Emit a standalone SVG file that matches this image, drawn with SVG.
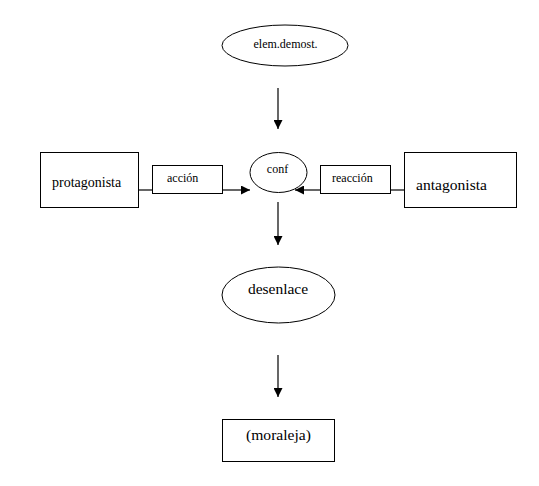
<svg xmlns="http://www.w3.org/2000/svg" width="539" height="486" viewBox="0 0 539 486">
<style>
.shape{fill:#fff;stroke:#000;stroke-width:1}
.ln{stroke:#000;stroke-width:1.2;fill:none}
.t{font-family:'Liberation Serif','Times New Roman','DejaVu Serif',serif;fill:#000}
</style>
<defs>
<marker id="ah" viewBox="0 0 10 10" refX="10" refY="5" markerWidth="10" markerHeight="9" markerUnits="userSpaceOnUse" orient="auto">
<path d="M0,0 L10,5 L0,10 Z" fill="#000"/>
</marker>
</defs>
<rect width="539" height="486" fill="#fff"/>
<g id="connectors">
<line class="ln" x1="278" y1="88" x2="278" y2="129" marker-end="url(#ah)"/>
<line class="ln" x1="138" y1="190" x2="152" y2="190"/>
<line class="ln" x1="222" y1="190" x2="250" y2="190" marker-end="url(#ah)"/>
<line class="ln" x1="404" y1="190" x2="391" y2="190"/>
<line class="ln" x1="320" y1="190" x2="295" y2="190" marker-end="url(#ah)"/>
<line class="ln" x1="278" y1="202" x2="278" y2="245" marker-end="url(#ah)"/>
<line class="ln" x1="278" y1="355" x2="278" y2="397" marker-end="url(#ah)"/>
</g>
<g id="elem">
<ellipse class="shape" cx="285" cy="45.5" rx="63" ry="20.5"/>
<text class="t" x="285.5" y="48" font-size="12" text-anchor="middle">elem.demost.</text>
</g>
<g id="protagonista">
<rect class="shape" x="40.5" y="152.5" width="98" height="55"/>
<text class="t" x="52" y="187" font-size="14">protagonista</text>
</g>
<g id="accion">
<rect class="shape" x="152.5" y="165.5" width="70" height="28"/>
<text class="t" x="167" y="182" font-size="12">acción</text>
</g>
<g id="conf">
<ellipse class="shape" cx="278.5" cy="172.5" rx="28.5" ry="20"/>
<text class="t" x="277.5" y="173" font-size="12" text-anchor="middle">conf</text>
</g>
<g id="reaccion">
<rect class="shape" x="320.5" y="165.5" width="70" height="28"/>
<text class="t" x="332" y="182" font-size="12">reacción</text>
</g>
<g id="antagonista">
<rect class="shape" x="404.5" y="152.5" width="112" height="55"/>
<text class="t" x="416" y="190" font-size="15.6">antagonista</text>
</g>
<g id="desenlace">
<ellipse class="shape" cx="278.5" cy="295" rx="56.5" ry="28"/>
<text class="t" x="278" y="294" font-size="15.5" text-anchor="middle">desenlace</text>
</g>
<g id="moraleja">
<rect class="shape" x="222.5" y="419.5" width="112" height="42"/>
<text class="t" x="278.5" y="440" font-size="15.6" text-anchor="middle">(moraleja)</text>
</g>
</svg>
